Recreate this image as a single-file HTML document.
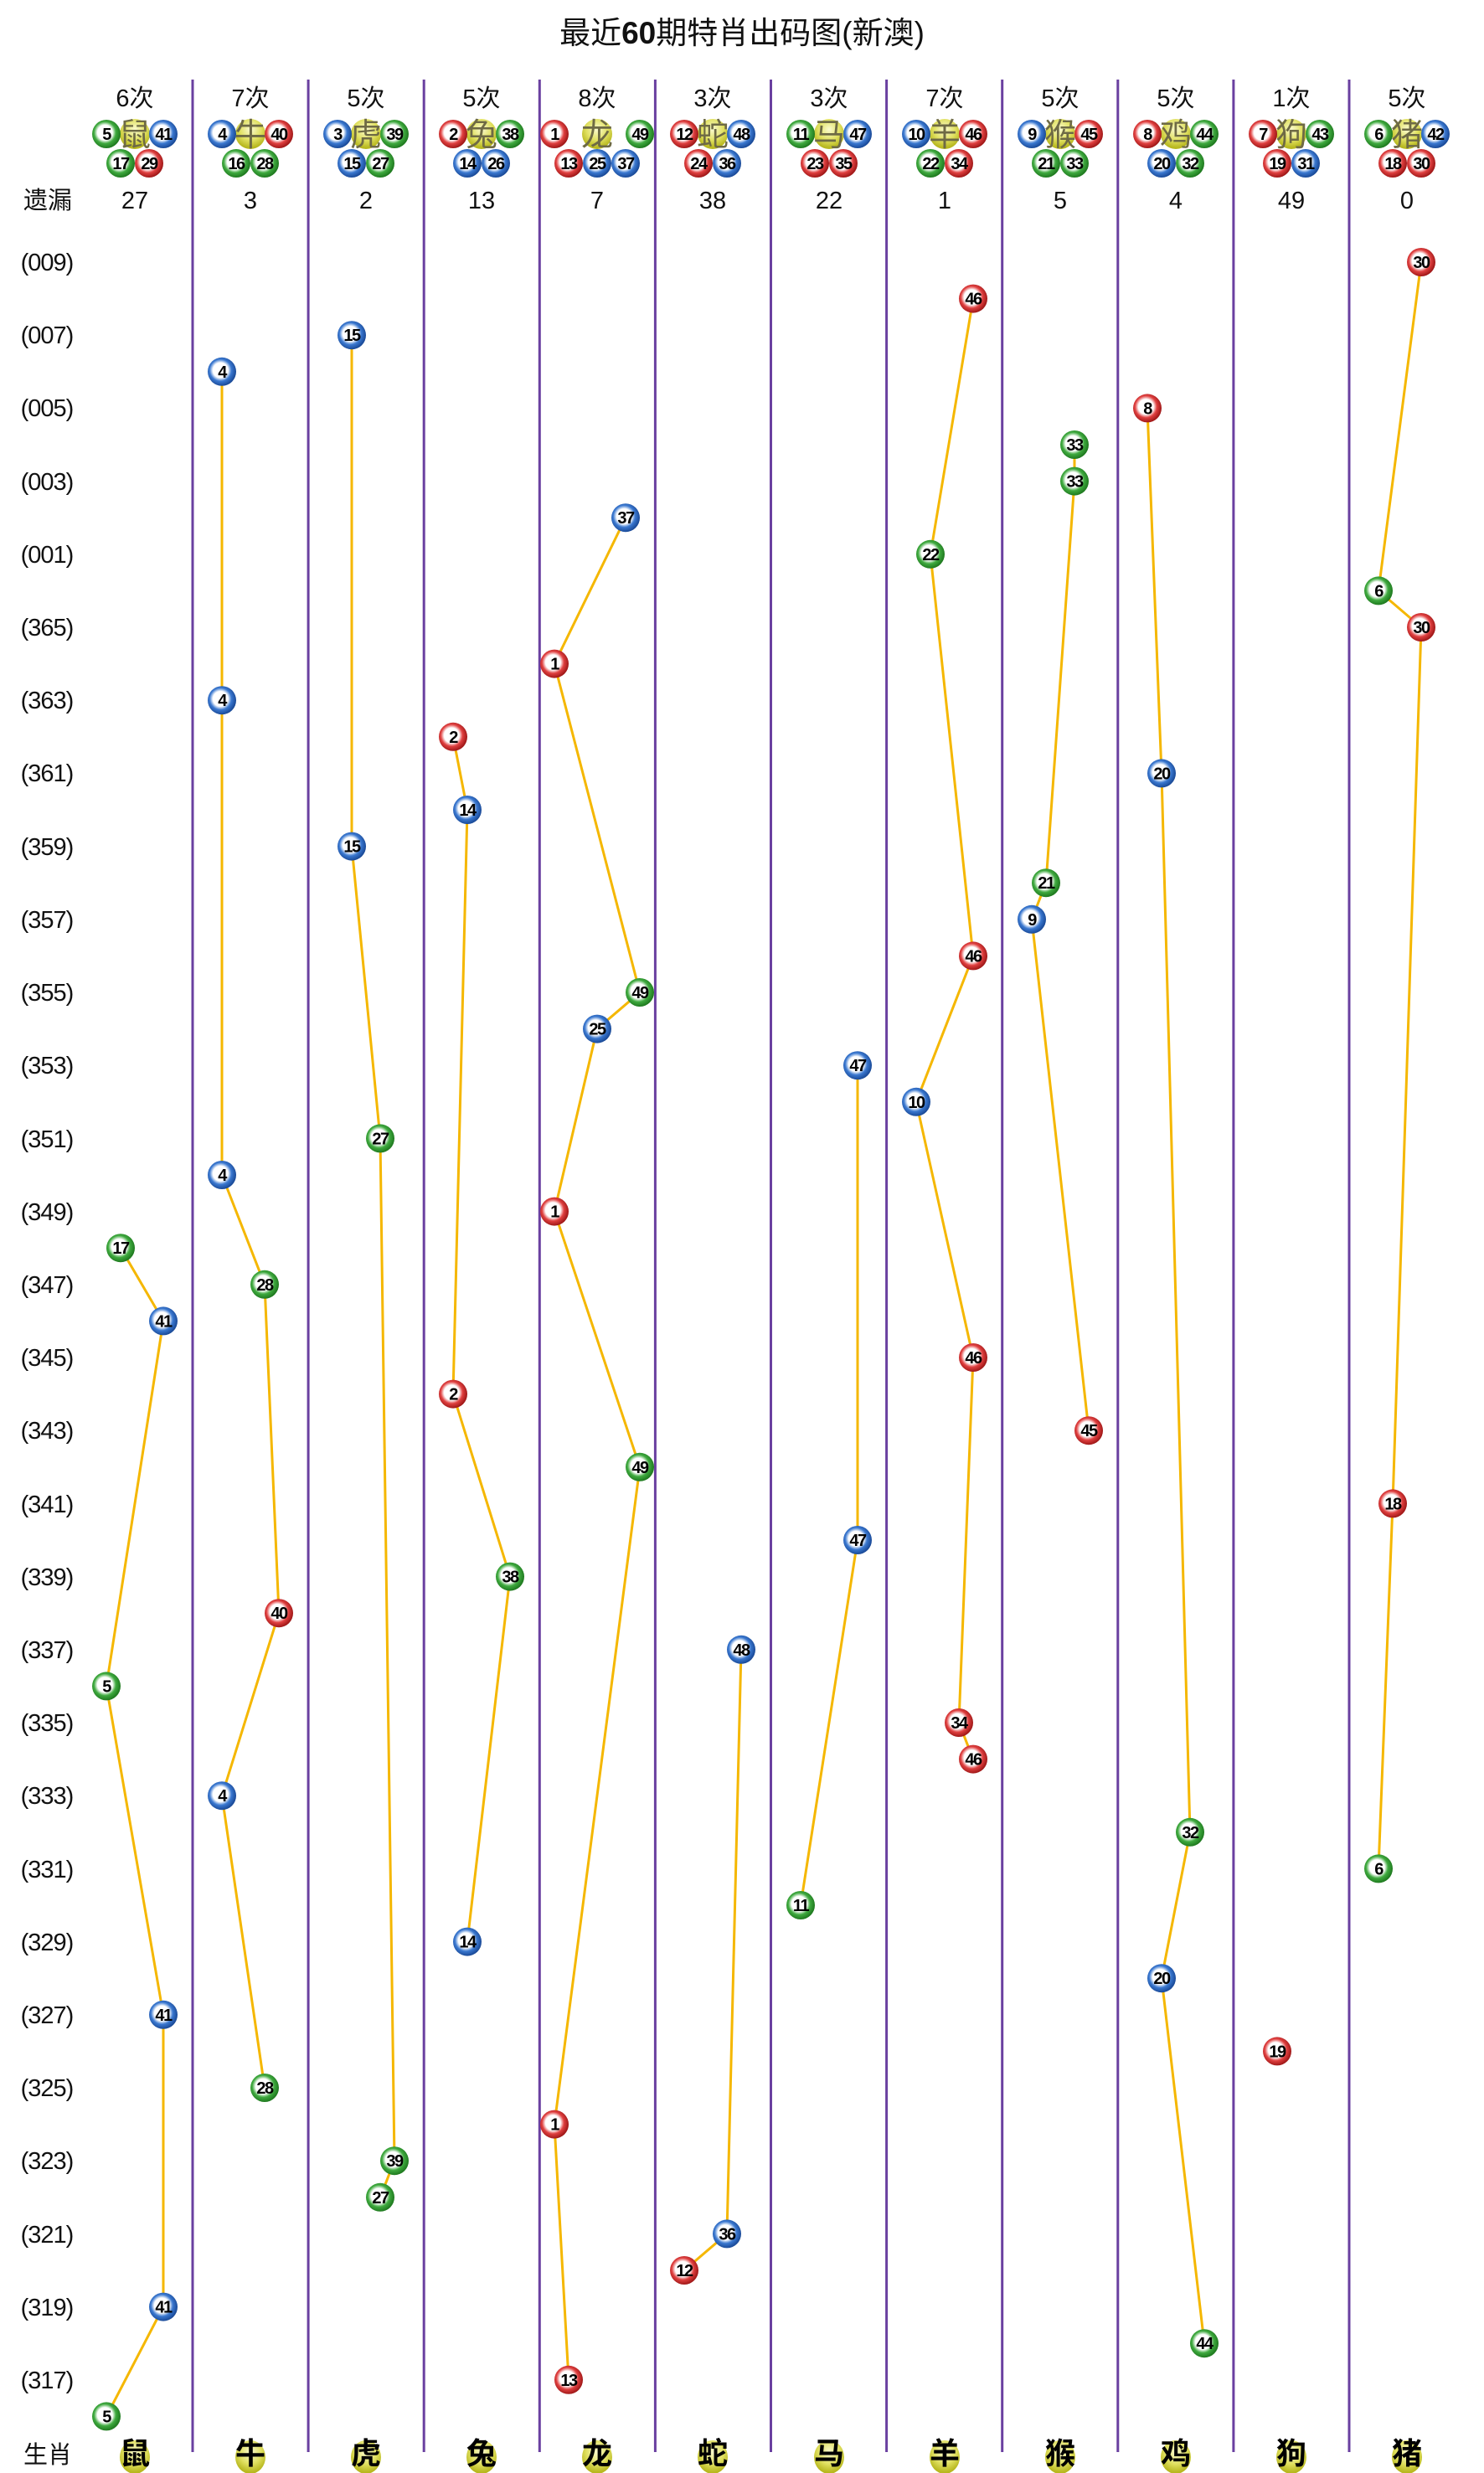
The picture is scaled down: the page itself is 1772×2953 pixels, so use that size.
<!DOCTYPE html>
<html><head><meta charset="utf-8"><style>
html,body{margin:0;padding:0;background:#fff;}
svg{display:block;}
text{font-family:"Liberation Sans","Noto Sans CJK SC",sans-serif;}
.n{font-size:20px;font-weight:bold;text-anchor:middle;fill:#000;letter-spacing:-1.5px;}
.h{font-size:29px;text-anchor:middle;fill:#111;}
.lb{font-size:29px;text-anchor:middle;fill:#111;}
.zh{font-size:38px;text-anchor:middle;fill:#6e6a45;}
.zb{font-size:36px;font-weight:bold;text-anchor:middle;fill:#000;}
.ln{fill:none;stroke:#f5b700;stroke-width:3;}
.dv{stroke:#6a40a0;stroke-width:3;}
</style></head><body>
<svg width="1772" height="2953" viewBox="0 0 1772 2953" xmlns="http://www.w3.org/2000/svg">
<defs>
<radialGradient id="r" cx="45%" cy="45%" r="55%"><stop offset="0" stop-color="#fff"/><stop offset="0.48" stop-color="#fff"/><stop offset="0.7" stop-color="#e04040"/><stop offset="1" stop-color="#a01818"/></radialGradient>
<radialGradient id="b" cx="45%" cy="45%" r="55%"><stop offset="0" stop-color="#fff"/><stop offset="0.48" stop-color="#fff"/><stop offset="0.7" stop-color="#3a78d0"/><stop offset="1" stop-color="#1a4a98"/></radialGradient>
<radialGradient id="g" cx="45%" cy="45%" r="55%"><stop offset="0" stop-color="#fff"/><stop offset="0.48" stop-color="#fff"/><stop offset="0.7" stop-color="#3faa3f"/><stop offset="1" stop-color="#1f7a1f"/></radialGradient>
<radialGradient id="y" cx="50%" cy="35%" r="60%"><stop offset="0" stop-color="#fafad0"/><stop offset="0.6" stop-color="#e0e060"/><stop offset="1" stop-color="#b8b820"/></radialGradient>
</defs>

<text x="886" y="52" style="font-size:37px;text-anchor:middle;fill:#111;">最近<tspan font-weight="bold">60</tspan>期特肖出码图(新澳)</text>

<g class="dv">
<line x1="230" y1="95" x2="230" y2="2928"/><line x1="368.1" y1="95" x2="368.1" y2="2928"/><line x1="506.2" y1="95" x2="506.2" y2="2928"/><line x1="644.3" y1="95" x2="644.3" y2="2928"/><line x1="782.4" y1="95" x2="782.4" y2="2928"/><line x1="920.5" y1="95" x2="920.5" y2="2928"/><line x1="1058.6" y1="95" x2="1058.6" y2="2928"/><line x1="1196.7" y1="95" x2="1196.7" y2="2928"/><line x1="1334.8" y1="95" x2="1334.8" y2="2928"/><line x1="1472.9" y1="95" x2="1472.9" y2="2928"/><line x1="1611" y1="95" x2="1611" y2="2928"/>
</g>

<g class="h">
<text x="161" y="127">6次</text><text x="299" y="127">7次</text><text x="437" y="127">5次</text><text x="575" y="127">5次</text><text x="713" y="127">8次</text><text x="851" y="127">3次</text><text x="990" y="127">3次</text><text x="1128" y="127">7次</text><text x="1266" y="127">5次</text><text x="1404" y="127">5次</text><text x="1542" y="127">1次</text><text x="1680" y="127">5次</text>
</g>
<text x="57" y="249" class="lb">遗漏</text>
<g class="h">
<text x="161" y="249">27</text><text x="299" y="249">3</text><text x="437" y="249">2</text><text x="575" y="249">13</text><text x="713" y="249">7</text><text x="851" y="249">38</text><text x="990" y="249">22</text><text x="1128" y="249">1</text><text x="1266" y="249">5</text><text x="1404" y="249">4</text><text x="1542" y="249">49</text><text x="1680" y="249">0</text>
</g>

<g>
<circle cx="161" cy="160" r="18" fill="url(#y)"/><text x="161" y="174" class="zh">鼠</text>
<circle cx="299" cy="160" r="18" fill="url(#y)"/><text x="299" y="174" class="zh">牛</text>
<circle cx="437" cy="160" r="18" fill="url(#y)"/><text x="437" y="174" class="zh">虎</text>
<circle cx="575" cy="160" r="18" fill="url(#y)"/><text x="575" y="174" class="zh">兔</text>
<circle cx="713" cy="160" r="18" fill="url(#y)"/><text x="713" y="174" class="zh">龙</text>
<circle cx="851" cy="160" r="18" fill="url(#y)"/><text x="851" y="174" class="zh">蛇</text>
<circle cx="990" cy="160" r="18" fill="url(#y)"/><text x="990" y="174" class="zh">马</text>
<circle cx="1128" cy="160" r="18" fill="url(#y)"/><text x="1128" y="174" class="zh">羊</text>
<circle cx="1266" cy="160" r="18" fill="url(#y)"/><text x="1266" y="174" class="zh">猴</text>
<circle cx="1404" cy="160" r="18" fill="url(#y)"/><text x="1404" y="174" class="zh">鸡</text>
<circle cx="1542" cy="160" r="18" fill="url(#y)"/><text x="1542" y="174" class="zh">狗</text>
<circle cx="1680" cy="160" r="18" fill="url(#y)"/><text x="1680" y="174" class="zh">猪</text>
</g>

<g>
<circle cx="127" cy="160" r="17" fill="url(#g)"/><text x="127" y="167" class="n">5</text>
<circle cx="195" cy="160" r="17" fill="url(#b)"/><text x="195" y="167" class="n">41</text>
<circle cx="144" cy="195" r="17" fill="url(#g)"/><text x="144" y="202" class="n">17</text>
<circle cx="178" cy="195" r="17" fill="url(#r)"/><text x="178" y="202" class="n">29</text>

<circle cx="265" cy="160" r="17" fill="url(#b)"/><text x="265" y="167" class="n">4</text>
<circle cx="333" cy="160" r="17" fill="url(#r)"/><text x="333" y="167" class="n">40</text>
<circle cx="282" cy="195" r="17" fill="url(#g)"/><text x="282" y="202" class="n">16</text>
<circle cx="316" cy="195" r="17" fill="url(#g)"/><text x="316" y="202" class="n">28</text>

<circle cx="403" cy="160" r="17" fill="url(#b)"/><text x="403" y="167" class="n">3</text>
<circle cx="471" cy="160" r="17" fill="url(#g)"/><text x="471" y="167" class="n">39</text>
<circle cx="420" cy="195" r="17" fill="url(#b)"/><text x="420" y="202" class="n">15</text>
<circle cx="454" cy="195" r="17" fill="url(#g)"/><text x="454" y="202" class="n">27</text>

<circle cx="541" cy="160" r="17" fill="url(#r)"/><text x="541" y="167" class="n">2</text>
<circle cx="609" cy="160" r="17" fill="url(#g)"/><text x="609" y="167" class="n">38</text>
<circle cx="558" cy="195" r="17" fill="url(#b)"/><text x="558" y="202" class="n">14</text>
<circle cx="592" cy="195" r="17" fill="url(#b)"/><text x="592" y="202" class="n">26</text>

<circle cx="662" cy="160" r="17" fill="url(#r)"/><text x="662" y="167" class="n">1</text>
<circle cx="764" cy="160" r="17" fill="url(#g)"/><text x="764" y="167" class="n">49</text>
<circle cx="679" cy="195" r="17" fill="url(#r)"/><text x="679" y="202" class="n">13</text>
<circle cx="713" cy="195" r="17" fill="url(#b)"/><text x="713" y="202" class="n">25</text>
<circle cx="747" cy="195" r="17" fill="url(#b)"/><text x="747" y="202" class="n">37</text>

<circle cx="817" cy="160" r="17" fill="url(#r)"/><text x="817" y="167" class="n">12</text>
<circle cx="885" cy="160" r="17" fill="url(#b)"/><text x="885" y="167" class="n">48</text>
<circle cx="834" cy="195" r="17" fill="url(#r)"/><text x="834" y="202" class="n">24</text>
<circle cx="868" cy="195" r="17" fill="url(#b)"/><text x="868" y="202" class="n">36</text>

<circle cx="956" cy="160" r="17" fill="url(#g)"/><text x="956" y="167" class="n">11</text>
<circle cx="1024" cy="160" r="17" fill="url(#b)"/><text x="1024" y="167" class="n">47</text>
<circle cx="973" cy="195" r="17" fill="url(#r)"/><text x="973" y="202" class="n">23</text>
<circle cx="1007" cy="195" r="17" fill="url(#r)"/><text x="1007" y="202" class="n">35</text>

<circle cx="1094" cy="160" r="17" fill="url(#b)"/><text x="1094" y="167" class="n">10</text>
<circle cx="1162" cy="160" r="17" fill="url(#r)"/><text x="1162" y="167" class="n">46</text>
<circle cx="1111" cy="195" r="17" fill="url(#g)"/><text x="1111" y="202" class="n">22</text>
<circle cx="1145" cy="195" r="17" fill="url(#r)"/><text x="1145" y="202" class="n">34</text>

<circle cx="1232" cy="160" r="17" fill="url(#b)"/><text x="1232" y="167" class="n">9</text>
<circle cx="1300" cy="160" r="17" fill="url(#r)"/><text x="1300" y="167" class="n">45</text>
<circle cx="1249" cy="195" r="17" fill="url(#g)"/><text x="1249" y="202" class="n">21</text>
<circle cx="1283" cy="195" r="17" fill="url(#g)"/><text x="1283" y="202" class="n">33</text>

<circle cx="1370" cy="160" r="17" fill="url(#r)"/><text x="1370" y="167" class="n">8</text>
<circle cx="1438" cy="160" r="17" fill="url(#g)"/><text x="1438" y="167" class="n">44</text>
<circle cx="1387" cy="195" r="17" fill="url(#b)"/><text x="1387" y="202" class="n">20</text>
<circle cx="1421" cy="195" r="17" fill="url(#g)"/><text x="1421" y="202" class="n">32</text>

<circle cx="1508" cy="160" r="17" fill="url(#r)"/><text x="1508" y="167" class="n">7</text>
<circle cx="1576" cy="160" r="17" fill="url(#g)"/><text x="1576" y="167" class="n">43</text>
<circle cx="1525" cy="195" r="17" fill="url(#r)"/><text x="1525" y="202" class="n">19</text>
<circle cx="1559" cy="195" r="17" fill="url(#b)"/><text x="1559" y="202" class="n">31</text>

<circle cx="1646" cy="160" r="17" fill="url(#g)"/><text x="1646" y="167" class="n">6</text>
<circle cx="1714" cy="160" r="17" fill="url(#b)"/><text x="1714" y="167" class="n">42</text>
<circle cx="1663" cy="195" r="17" fill="url(#r)"/><text x="1663" y="202" class="n">18</text>
<circle cx="1697" cy="195" r="17" fill="url(#r)"/><text x="1697" y="202" class="n">30</text>
</g>

<g class="lb" style="letter-spacing:-1px">
<text x="56" y="323">(009)</text><text x="56" y="410">(007)</text><text x="56" y="497">(005)</text><text x="56" y="585">(003)</text><text x="56" y="672">(001)</text><text x="56" y="759">(365)</text><text x="56" y="846">(363)</text><text x="56" y="933">(361)</text><text x="56" y="1021">(359)</text><text x="56" y="1108">(357)</text><text x="56" y="1195">(355)</text><text x="56" y="1282">(353)</text><text x="56" y="1370">(351)</text><text x="56" y="1457">(349)</text><text x="56" y="1544">(347)</text><text x="56" y="1631">(345)</text><text x="56" y="1718">(343)</text><text x="56" y="1806">(341)</text><text x="56" y="1893">(339)</text><text x="56" y="1980">(337)</text><text x="56" y="2067">(335)</text><text x="56" y="2154">(333)</text><text x="56" y="2242">(331)</text><text x="56" y="2329">(329)</text><text x="56" y="2416">(327)</text><text x="56" y="2503">(325)</text><text x="56" y="2590">(323)</text><text x="56" y="2678">(321)</text><text x="56" y="2765">(319)</text><text x="56" y="2852">(317)</text>
</g>

<g class="ln">
<polyline points="144,1490.2 195,1577.4 127,2013.4 195,2405.8 195,2754.6 127,2885.4"/>
<polyline points="265,443.8 265,836.2 265,1403 316,1533.8 333,1926.2 265,2144.2 316,2493"/>
<polyline points="420,400.2 420,1010.6 454,1359.4 471,2580.2 454,2623.8"/>
<polyline points="541,879.8 558,967 541,1664.6 609,1882.6 558,2318.6"/>
<polyline points="747,618.2 662,792.6 764,1185 713,1228.6 662,1446.6 764,1751.8 662,2536.6 679,2841.8"/>
<polyline points="885,1969.8 868,2667.4 817,2711"/>
<polyline points="1024,1272.2 1024,1839 956,2275"/>
<polyline points="1162,356.6 1111,661.8 1162,1141.4 1094,1315.8 1162,1621 1145,2057 1162,2100.6"/>
<polyline points="1283,531 1283,574.6 1249,1054.2 1232,1097.8 1300,1708.2"/>
<polyline points="1370,487.4 1387,923.4 1421,2187.8 1387,2362.2 1438,2798.2"/>
<polyline points="1697,313 1646,705.4 1697,749 1663,1795.4 1646,2231.4"/>
</g>

<g>
<circle cx="144" cy="1490.2" r="17" fill="url(#g)"/><text x="144" y="1497.2" class="n">17</text>
<circle cx="195" cy="1577.4" r="17" fill="url(#b)"/><text x="195" y="1584.4" class="n">41</text>
<circle cx="127" cy="2013.4" r="17" fill="url(#g)"/><text x="127" y="2020.4" class="n">5</text>
<circle cx="195" cy="2405.8" r="17" fill="url(#b)"/><text x="195" y="2412.8" class="n">41</text>
<circle cx="195" cy="2754.6" r="17" fill="url(#b)"/><text x="195" y="2761.6" class="n">41</text>
<circle cx="127" cy="2885.4" r="17" fill="url(#g)"/><text x="127" y="2892.4" class="n">5</text>

<circle cx="265" cy="443.8" r="17" fill="url(#b)"/><text x="265" y="450.8" class="n">4</text>
<circle cx="265" cy="836.2" r="17" fill="url(#b)"/><text x="265" y="843.2" class="n">4</text>
<circle cx="265" cy="1403" r="17" fill="url(#b)"/><text x="265" y="1410" class="n">4</text>
<circle cx="316" cy="1533.8" r="17" fill="url(#g)"/><text x="316" y="1540.8" class="n">28</text>
<circle cx="333" cy="1926.2" r="17" fill="url(#r)"/><text x="333" y="1933.2" class="n">40</text>
<circle cx="265" cy="2144.2" r="17" fill="url(#b)"/><text x="265" y="2151.2" class="n">4</text>
<circle cx="316" cy="2493" r="17" fill="url(#g)"/><text x="316" y="2500" class="n">28</text>

<circle cx="420" cy="400.2" r="17" fill="url(#b)"/><text x="420" y="407.2" class="n">15</text>
<circle cx="420" cy="1010.6" r="17" fill="url(#b)"/><text x="420" y="1017.6" class="n">15</text>
<circle cx="454" cy="1359.4" r="17" fill="url(#g)"/><text x="454" y="1366.4" class="n">27</text>
<circle cx="471" cy="2580.2" r="17" fill="url(#g)"/><text x="471" y="2587.2" class="n">39</text>
<circle cx="454" cy="2623.8" r="17" fill="url(#g)"/><text x="454" y="2630.8" class="n">27</text>

<circle cx="541" cy="879.8" r="17" fill="url(#r)"/><text x="541" y="886.8" class="n">2</text>
<circle cx="558" cy="967" r="17" fill="url(#b)"/><text x="558" y="974" class="n">14</text>
<circle cx="541" cy="1664.6" r="17" fill="url(#r)"/><text x="541" y="1671.6" class="n">2</text>
<circle cx="609" cy="1882.6" r="17" fill="url(#g)"/><text x="609" y="1889.6" class="n">38</text>
<circle cx="558" cy="2318.6" r="17" fill="url(#b)"/><text x="558" y="2325.6" class="n">14</text>

<circle cx="747" cy="618.2" r="17" fill="url(#b)"/><text x="747" y="625.2" class="n">37</text>
<circle cx="662" cy="792.6" r="17" fill="url(#r)"/><text x="662" y="799.6" class="n">1</text>
<circle cx="764" cy="1185" r="17" fill="url(#g)"/><text x="764" y="1192" class="n">49</text>
<circle cx="713" cy="1228.6" r="17" fill="url(#b)"/><text x="713" y="1235.6" class="n">25</text>
<circle cx="662" cy="1446.6" r="17" fill="url(#r)"/><text x="662" y="1453.6" class="n">1</text>
<circle cx="764" cy="1751.8" r="17" fill="url(#g)"/><text x="764" y="1758.8" class="n">49</text>
<circle cx="662" cy="2536.6" r="17" fill="url(#r)"/><text x="662" y="2543.6" class="n">1</text>
<circle cx="679" cy="2841.8" r="17" fill="url(#r)"/><text x="679" y="2848.8" class="n">13</text>

<circle cx="885" cy="1969.8" r="17" fill="url(#b)"/><text x="885" y="1976.8" class="n">48</text>
<circle cx="868" cy="2667.4" r="17" fill="url(#b)"/><text x="868" y="2674.4" class="n">36</text>
<circle cx="817" cy="2711" r="17" fill="url(#r)"/><text x="817" y="2718" class="n">12</text>

<circle cx="1024" cy="1272.2" r="17" fill="url(#b)"/><text x="1024" y="1279.2" class="n">47</text>
<circle cx="1024" cy="1839" r="17" fill="url(#b)"/><text x="1024" y="1846" class="n">47</text>
<circle cx="956" cy="2275" r="17" fill="url(#g)"/><text x="956" y="2282" class="n">11</text>

<circle cx="1162" cy="356.6" r="17" fill="url(#r)"/><text x="1162" y="363.6" class="n">46</text>
<circle cx="1111" cy="661.8" r="17" fill="url(#g)"/><text x="1111" y="668.8" class="n">22</text>
<circle cx="1162" cy="1141.4" r="17" fill="url(#r)"/><text x="1162" y="1148.4" class="n">46</text>
<circle cx="1094" cy="1315.8" r="17" fill="url(#b)"/><text x="1094" y="1322.8" class="n">10</text>
<circle cx="1162" cy="1621" r="17" fill="url(#r)"/><text x="1162" y="1628" class="n">46</text>
<circle cx="1145" cy="2057" r="17" fill="url(#r)"/><text x="1145" y="2064" class="n">34</text>
<circle cx="1162" cy="2100.6" r="17" fill="url(#r)"/><text x="1162" y="2107.6" class="n">46</text>

<circle cx="1283" cy="531" r="17" fill="url(#g)"/><text x="1283" y="538" class="n">33</text>
<circle cx="1283" cy="574.6" r="17" fill="url(#g)"/><text x="1283" y="581.6" class="n">33</text>
<circle cx="1249" cy="1054.2" r="17" fill="url(#g)"/><text x="1249" y="1061.2" class="n">21</text>
<circle cx="1232" cy="1097.8" r="17" fill="url(#b)"/><text x="1232" y="1104.8" class="n">9</text>
<circle cx="1300" cy="1708.2" r="17" fill="url(#r)"/><text x="1300" y="1715.2" class="n">45</text>

<circle cx="1370" cy="487.4" r="17" fill="url(#r)"/><text x="1370" y="494.4" class="n">8</text>
<circle cx="1387" cy="923.4" r="17" fill="url(#b)"/><text x="1387" y="930.4" class="n">20</text>
<circle cx="1421" cy="2187.8" r="17" fill="url(#g)"/><text x="1421" y="2194.8" class="n">32</text>
<circle cx="1387" cy="2362.2" r="17" fill="url(#b)"/><text x="1387" y="2369.2" class="n">20</text>
<circle cx="1438" cy="2798.2" r="17" fill="url(#g)"/><text x="1438" y="2805.2" class="n">44</text>

<circle cx="1525" cy="2449.4" r="17" fill="url(#r)"/><text x="1525" y="2456.4" class="n">19</text>

<circle cx="1697" cy="313" r="17" fill="url(#r)"/><text x="1697" y="320" class="n">30</text>
<circle cx="1646" cy="705.4" r="17" fill="url(#g)"/><text x="1646" y="712.4" class="n">6</text>
<circle cx="1697" cy="749" r="17" fill="url(#r)"/><text x="1697" y="756" class="n">30</text>
<circle cx="1663" cy="1795.4" r="17" fill="url(#r)"/><text x="1663" y="1802.4" class="n">18</text>
<circle cx="1646" cy="2231.4" r="17" fill="url(#g)"/><text x="1646" y="2238.4" class="n">6</text>
</g>

<text x="57" y="2941" class="lb">生肖</text>
<g>
<ellipse cx="161" cy="2934" rx="18" ry="20" fill="url(#y)"/><text x="161" y="2942" class="zb">鼠</text>
<ellipse cx="299" cy="2934" rx="18" ry="20" fill="url(#y)"/><text x="299" y="2942" class="zb">牛</text>
<ellipse cx="437" cy="2934" rx="18" ry="20" fill="url(#y)"/><text x="437" y="2942" class="zb">虎</text>
<ellipse cx="575" cy="2934" rx="18" ry="20" fill="url(#y)"/><text x="575" y="2942" class="zb">兔</text>
<ellipse cx="713" cy="2934" rx="18" ry="20" fill="url(#y)"/><text x="713" y="2942" class="zb">龙</text>
<ellipse cx="851" cy="2934" rx="18" ry="20" fill="url(#y)"/><text x="851" y="2942" class="zb">蛇</text>
<ellipse cx="990" cy="2934" rx="18" ry="20" fill="url(#y)"/><text x="990" y="2942" class="zb">马</text>
<ellipse cx="1128" cy="2934" rx="18" ry="20" fill="url(#y)"/><text x="1128" y="2942" class="zb">羊</text>
<ellipse cx="1266" cy="2934" rx="18" ry="20" fill="url(#y)"/><text x="1266" y="2942" class="zb">猴</text>
<ellipse cx="1404" cy="2934" rx="18" ry="20" fill="url(#y)"/><text x="1404" y="2942" class="zb">鸡</text>
<ellipse cx="1542" cy="2934" rx="18" ry="20" fill="url(#y)"/><text x="1542" y="2942" class="zb">狗</text>
<ellipse cx="1680" cy="2934" rx="18" ry="20" fill="url(#y)"/><text x="1680" y="2942" class="zb">猪</text>
</g>
</svg>
</body></html>
